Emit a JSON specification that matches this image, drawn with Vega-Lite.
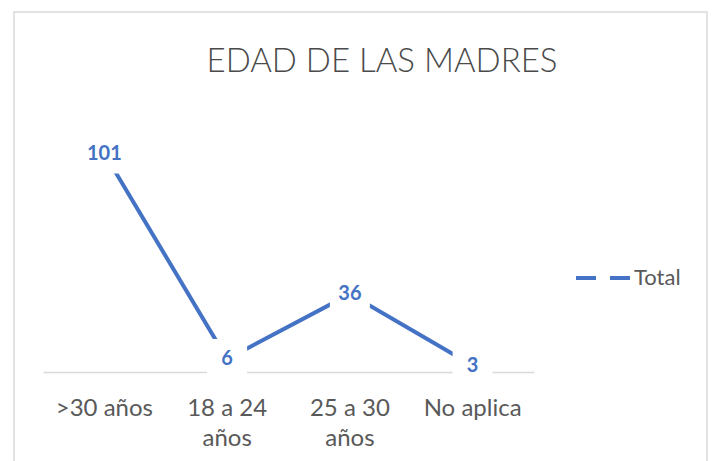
{
  "$schema": "https://vega.github.io/schema/vega-lite/v6.json",
  "autosize": "none",
  "width": 693,
  "height": 470,
  "padding": {"left": 14, "top": 12, "right": 5, "bottom": 0},
  "background": "white",
  "title": {
    "text": "EDAD DE LAS MADRES",
    "font": "Lato",
    "fontSize": 33,
    "fontWeight": 300,
    "color": "#4a4a4a",
    "anchor": "middle",
    "frame": "group",
    "baseline": "alphabetic",
    "offset": 0,
    "dx": 21.5,
    "dy": 93
  },
  "config": {"view": {"stroke": "#d9d9d9", "strokeWidth": 1.5}},
  "data": {
    "values": [
      {"edad": ">30 años", "total": 101, "serie": "Total"},
      {"edad": "18 a 24 años", "total": 6, "serie": "Total"},
      {"edad": "25 a 30 años", "total": 36, "serie": "Total"},
      {"edad": "No aplica", "total": 3, "serie": "Total"}
    ]
  },
  "encoding": {
    "x": {
      "field": "edad",
      "type": "nominal",
      "sort": null,
      "scale": {"type": "band", "range": [29, 520], "paddingInner": 0, "paddingOuter": 0},
      "axis": {
        "title": null,
        "domainColor": "#d9d9d9",
        "domainWidth": 1.5,
        "ticks": false,
        "tickSize": 0,
        "labelAngle": 0,
        "labelFont": "Lato",
        "labelFontSize": 24,
        "labelColor": "#595959",
        "labelPadding": 24,
        "labelLineHeight": 30,
        "labelBaseline": "top",
        "offset": -110,
        "labelExpr": "datum.value == '18 a 24 años' ? ['18 a 24', 'años'] : datum.value == '25 a 30 años' ? ['25 a 30', 'años'] : datum.value"
      }
    },
    "y": {
      "field": "total",
      "type": "quantitative",
      "scale": {"domain": [0, 120], "range": [360, 100.4]},
      "axis": null
    }
  },
  "layer": [
    {
      "mark": {"type": "line", "strokeWidth": 4},
      "encoding": {
        "color": {
          "field": "serie",
          "type": "nominal",
          "scale": {"range": ["#4472C4"]},
          "legend": {
            "title": null,
            "orient": "none",
            "legendX": 560,
            "legendY": 237,
            "symbolType": "stroke",
            "symbolStrokeWidth": 4,
            "symbolDash": [20, 14],
            "symbolSize": 2916,
            "labelFont": "Lato",
            "labelFontSize": 22,
            "labelColor": "#595959",
            "labelOffset": 2,
            "padding": 0
          }
        }
      }
    },
    {
      "mark": {"type": "point", "shape": "square", "size": 1600, "filled": true, "color": "white", "opacity": 1, "strokeWidth": 0}
    },
    {
      "mark": {"type": "text", "font": "Lato", "fontSize": 20, "fontWeight": "bold", "color": "#4472C4", "baseline": "middle", "align": "center"},
      "encoding": {"text": {"field": "total", "type": "quantitative"}}
    }
  ]
}
